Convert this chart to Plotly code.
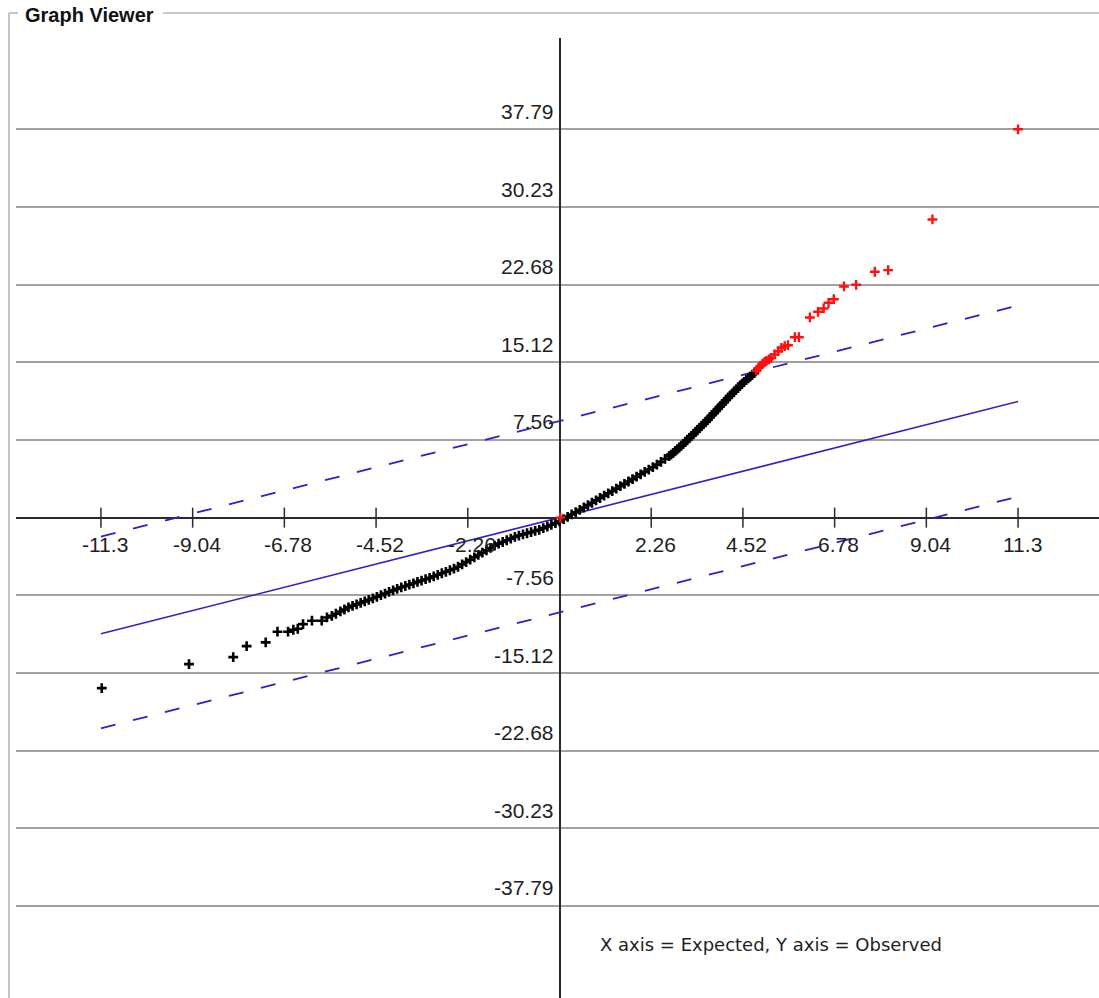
import plotly.graph_objects as go

# ---- data -------------------------------------------------------------
# axis tick values (expected on x, observed on y)
x_ticks = [-11.3, -9.04, -6.78, -4.52, -2.26, 2.26, 4.52, 6.78, 9.04, 11.3]
y_ticks = [37.79, 30.23, 22.68, 15.12, 7.56, -7.56, -15.12, -22.68, -30.23, -37.79]

# points inside the confidence band
inside_x = [-11.28, -9.13, -8.04, -7.71, -7.24, -6.95, -6.69, -6.56, -6.45, -6.32,
            -6.10, -5.86, -5.73, -5.61, -5.51, -5.4, -5.3, -5.2, -5.1, -5.0,
            -4.9, -4.8, -4.7, -4.6, -4.5, -4.4, -4.3, -4.2, -4.1, -4.0,
            -3.9, -3.8, -3.7, -3.6, -3.5, -3.4, -3.3, -3.2, -3.1, -3.0,
            -2.9, -2.8, -2.7, -2.6, -2.5, -2.4, -2.3, -2.2, -2.1, -2.0,
            -1.9, -1.8, -1.7, -1.6, -1.5, -1.4, -1.3, -1.2, -1.1, -1.0,
            -0.9, -0.8, -0.7, -0.6, -0.5, -0.4, -0.3, -0.2, -0.1, 0.0,
            0.1, 0.2, 0.3, 0.4, 0.5, 0.6, 0.7, 0.8, 0.9, 1.0,
            1.1, 1.2, 1.3, 1.4, 1.5, 1.6, 1.7, 1.8, 1.9, 2.0,
            2.1, 2.2, 2.3, 2.4, 2.5, 2.6, 2.7, 2.75, 2.8, 2.85,
            2.9, 2.95, 3.0, 3.05, 3.1, 3.15, 3.2, 3.25, 3.3, 3.35,
            3.4, 3.45, 3.5, 3.55, 3.6, 3.65, 3.7, 3.75, 3.8, 3.85,
            3.9, 3.95, 4.0, 4.05, 4.1, 4.15, 4.2, 4.25, 4.3, 4.35,
            4.4, 4.45, 4.5, 4.55, 4.6, 4.65, 4.7, 4.75, 4.8]
inside_y = [-16.59, -14.25, -13.57, -12.50, -12.14, -11.10, -11.10, -10.91, -10.81, -10.36,
            -10.03, -10.03, -9.71, -9.55, -9.35, -9.13, -8.94, -8.73, -8.58, -8.44,
            -8.29, -8.15, -8.00, -7.85, -7.70, -7.54, -7.39, -7.23, -7.08, -6.93,
            -6.78, -6.65, -6.52, -6.39, -6.25, -6.12, -5.99, -5.86, -5.71, -5.56,
            -5.41, -5.27, -5.12, -4.97, -4.78, -4.55, -4.32, -4.09, -3.86, -3.63,
            -3.40, -3.18, -2.95, -2.72, -2.53, -2.37, -2.20, -2.04, -1.87, -1.74,
            -1.63, -1.52, -1.41, -1.29, -1.18, -1.02, -0.86, -0.69, -0.53, -0.36,
            -0.14, 0.08, 0.31, 0.53, 0.76, 0.99, 1.22, 1.45, 1.68, 1.91,
            2.14, 2.37, 2.59, 2.82, 3.06, 3.29, 3.52, 3.75, 3.99, 4.22,
            4.45, 4.68, 4.91, 5.16, 5.43, 5.71, 5.98, 6.13, 6.28, 6.46,
            6.64, 6.82, 7.00, 7.18, 7.36, 7.56, 7.75, 7.94, 8.13, 8.33,
            8.53, 8.72, 8.92, 9.12, 9.31, 9.51, 9.72, 9.94, 10.15, 10.36,
            10.57, 10.79, 11.00, 11.21, 11.43, 11.64, 11.85, 12.05, 12.25, 12.45,
            12.64, 12.84, 13.04, 13.22, 13.39, 13.56, 13.72, 13.89, 14.06]

# points outside the band
outside_x = [0.02, 4.85, 4.90, 4.95, 5.01, 5.06, 5.10, 5.16, 5.22, 5.30,
             5.39, 5.47, 5.55, 5.63, 5.80, 5.90, 6.17, 6.37, 6.51, 6.63,
             6.76, 7.01, 7.31, 7.77, 8.10, 9.19, 11.3]
outside_y = [0.0, 14.30, 14.55, 14.75, 15.00, 15.15, 15.25, 15.40, 15.55, 15.88,
             16.20, 16.53, 16.69, 16.78, 17.56, 17.56, 19.48, 20.03, 20.36, 20.91,
             21.26, 22.50, 22.66, 23.93, 24.09, 29.02, 37.79]

# reference line and band limits
line_x = [-11.3, 11.3]
line_y = [-11.3, 11.3]
upper_y = [-1.85, 20.65]
lower_y = [-20.5, 2.05]

caption = "X axis = Expected, Y axis = Observed"
title = "Graph Viewer"

# ---- geometry ---------------------------------------------------------
W, H = 1099, 998
PLOT_L, PLOT_R, PLOT_T, PLOT_B = 16, 1099, 38, 998
X0_PX, Y0_PX = 559.5, 517.65          # pixel position of the origin
X_SCALE, Y_SCALE = 40.58, 10.276       # pixels per data unit

x_range = [(PLOT_L - X0_PX) / X_SCALE, (PLOT_R - X0_PX) / X_SCALE]
y_range = [(Y0_PX - PLOT_B) / Y_SCALE, (Y0_PX - PLOT_T) / Y_SCALE]


def paper_x(px):
    return (px - PLOT_L) / (PLOT_R - PLOT_L)


def paper_y(py):
    return (PLOT_B - py) / (PLOT_B - PLOT_T)


BLUE = "#2f22c4"
GRID = "#a2a2a2"
AXIS = "#2a2a2a"
FRAME = "#c6c6c6"
TEXT = "#1e1e1e"
SANS = "Liberation Sans, Arial, sans-serif"
NUM_FONT = dict(family=SANS, size=21, color=TEXT)

fig = go.Figure()

# band and reference line
dash = "15px,18px"
fig.add_trace(go.Scatter(x=line_x, y=upper_y, mode="lines",
                         line=dict(color=BLUE, width=1.8, dash=dash),
                         hoverinfo="skip"))
fig.add_trace(go.Scatter(x=line_x, y=lower_y, mode="lines",
                         line=dict(color=BLUE, width=1.8, dash=dash),
                         hoverinfo="skip"))
fig.add_trace(go.Scatter(x=line_x, y=line_y, mode="lines",
                         line=dict(color=BLUE, width=1.6), hoverinfo="skip"))

# tick marks on the horizontal axis
tick_half = 10 / Y_SCALE
tx, ty = [], []
for t in x_ticks:
    tx += [t, t, None]
    ty += [-tick_half, tick_half, None]
fig.add_trace(go.Scatter(x=tx, y=ty, mode="lines",
                         line=dict(color=AXIS, width=1.5), hoverinfo="skip"))

# observations
fig.add_trace(go.Scatter(x=inside_x, y=inside_y, mode="markers",
                         marker=dict(symbol="cross-thin", size=7,
                                     line=dict(color="black", width=2.6))))
fig.add_trace(go.Scatter(x=outside_x, y=outside_y, mode="markers",
                         marker=dict(symbol="cross-thin", size=7,
                                     line=dict(color="#ff1010", width=2.4))))

annotations = []
for v in y_ticks:
    annotations.append(dict(x=0, y=v, xref="x", yref="y", text=f"{v:.2f}",
                            showarrow=False, xanchor="right", yanchor="middle",
                            xshift=-4, yshift=18, font=NUM_FONT))
for v in x_ticks:
    annotations.append(dict(x=v, y=0, xref="x", yref="y", text=f"{v:g}",
                            showarrow=False, xanchor="center", yanchor="middle",
                            xshift=4, yshift=-27, font=NUM_FONT))
annotations.append(dict(x=paper_x(598), y=paper_y(944), xref="paper", yref="paper",
                        text=caption, showarrow=False, xanchor="left", yanchor="middle",
                        font=dict(family="DejaVu Sans, sans-serif", size=18, color=TEXT)))
annotations.append(dict(x=paper_x(23), y=paper_y(15), xref="paper", yref="paper",
                        text=f"<b>{title}</b>", showarrow=False, xanchor="left",
                        yanchor="middle",
                        font=dict(family=SANS, size=20, color="#111111")))

frame = dict(type="line", xref="paper", yref="paper", line=dict(color=FRAME, width=2))
shapes = [
    dict(frame, x0=paper_x(9), x1=paper_x(9), y0=paper_y(13), y1=paper_y(H)),
    dict(frame, x0=paper_x(9), x1=paper_x(18), y0=paper_y(13), y1=paper_y(13)),
    dict(frame, x0=paper_x(163), x1=paper_x(W), y0=paper_y(13), y1=paper_y(13)),
]

fig.update_layout(
    width=W, height=H,
    margin=dict(l=PLOT_L, r=W - PLOT_R, t=PLOT_T, b=H - PLOT_B, pad=0),
    paper_bgcolor="white", plot_bgcolor="white",
    showlegend=False, hovermode=False,
    annotations=annotations, shapes=shapes,
    xaxis=dict(range=x_range, showgrid=False, showticklabels=False, ticks="",
               zeroline=True, zerolinecolor=AXIS, zerolinewidth=1.5, fixedrange=True),
    yaxis=dict(range=y_range, tickvals=y_ticks, showgrid=True, gridcolor=GRID,
               gridwidth=2, showticklabels=False, ticks="",
               zeroline=True, zerolinecolor=AXIS, zerolinewidth=1.5, fixedrange=True),
)

fig.write_html("out.html", config={"displayModeBar": False})
